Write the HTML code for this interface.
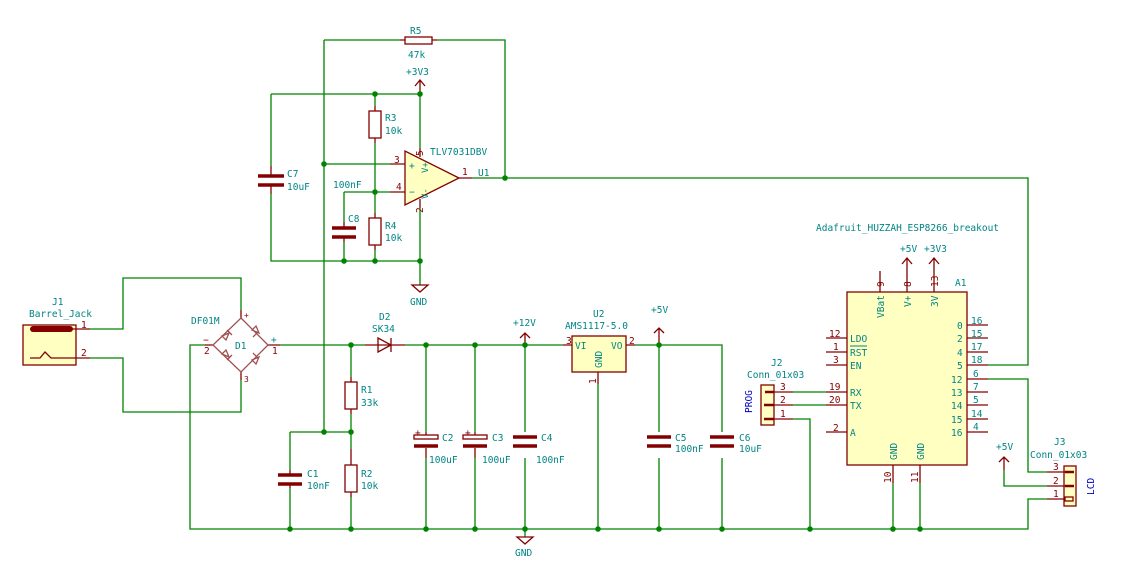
<!DOCTYPE html>
<html><head><meta charset="utf-8"><style>
html,body{margin:0;padding:0;background:#fff;}
svg{display:block;font-family:"DejaVu Sans Mono","Liberation Mono",monospace;}
.w{stroke:#008400;stroke-width:1.3;fill:none;}
.r{stroke:#840000;stroke-width:1.3;fill:none;}
.rf{stroke:#840000;stroke-width:1.3;fill:#ffffc2;}
.p{stroke:#840000;stroke-width:3.5;fill:none;}
.j{fill:#008400;}
text{font-size:9.5px;fill:#008484;}
.rt{fill:#840000;}
.bt{fill:#0000c2;}
</style></head><body>
<svg width="1134" height="585" viewBox="0 0 1134 585" xmlns="http://www.w3.org/2000/svg">
<path class="w" d="M324,40 H400 M437,40 H505 V178 M324,40 V432"/>
<path class="w" d="M271,94 H420 M271,94 V166 M271,194 V261 H420 M375,94 V106 M375,143 V213 M375,250 V261 M420,94 V148 M420,208 V285"/>
<path class="w" d="M324,164 H390 M344,192 H390 M344,192 V222 M344,242 V261"/>
<path class="w" d="M472,178 H1028 V365 H988"/>
<rect class="r" x="405" y="37" width="27" height="7"/>
<path class="r" d="M400,40 H405 M432,40 H437"/>
<text x="410" y="34">R5</text><text x="408" y="58">47k</text>
<path class="r" d="M420,94 V80 M415,86 L420,80 L425,86"/>
<text x="406" y="75">+3V3</text>
<rect class="r" x="369" y="111" width="12" height="27"/>
<path class="r" d="M375,106 V111 M375,138 V143"/>
<text x="385" y="121">R3</text><text x="385" y="134">10k</text>
<rect class="r" x="369" y="218" width="12" height="27"/>
<path class="r" d="M375,213 V218 M375,245 V250"/>
<text x="385" y="229">R4</text><text x="385" y="241">10k</text>
<path class="r" d="M271,166 V176 M271,186 V194"/>
<path class="p" d="M258,176 H284 M258,185 H284"/>
<text x="287" y="177">C7</text><text x="287" y="190">10uF</text>
<path class="r" d="M344,222 V228 M344,237 V242"/>
<path class="p" d="M332,228 H356 M332,237 H356"/>
<text x="348" y="222">C8</text><text x="333" y="188">100nF</text>
<polygon class="rf" points="405,151 405,205 459,178"/>
<path class="r" d="M390,164 H405 M390,192 H405 M459,178 H472 M420,148 V157 M420,199 V208"/>
<text x="394" y="163" class="rt">3</text><text x="396" y="190" class="rt">4</text><text x="462" y="175" class="rt">1</text>
<text x="409" y="169">+</text><text x="409" y="195">−</text>
<text x="0" y="0" transform="translate(423,156) rotate(-90)" class="rt">5</text>
<text x="0" y="0" transform="translate(423,213) rotate(-90)" class="rt">2</text>
<text x="0" y="0" transform="translate(428,173) rotate(-90)" style="font-size:9px">V+</text>
<text x="0" y="0" transform="translate(428,199) rotate(-90)" style="font-size:9px">V-</text>
<text x="430" y="155">TLV7031DBV</text><text x="478" y="176">U1</text>
<path class="r" d="M412,285 H428 L420,292 Z"/>
<text x="410" y="305">GND</text>
<circle class="j" cx="375" cy="94" r="2.8"/><circle class="j" cx="420" cy="94" r="2.8"/>
<circle class="j" cx="324" cy="164" r="2.8"/><circle class="j" cx="375" cy="192" r="2.8"/>
<circle class="j" cx="344" cy="261" r="2.8"/><circle class="j" cx="375" cy="261" r="2.8"/><circle class="j" cx="420" cy="261" r="2.8"/>
<circle class="j" cx="505" cy="178" r="2.8"/>

<rect class="rf" x="23" y="325" width="53" height="40"/>
<path class="p" d="M33,329 H70" style="stroke-width:6;stroke-linecap:round"/>
<path class="r" d="M70,329 H90 M30,358 H40 L45,352 L51,358 H90"/>
<text x="52" y="305">J1</text><text x="29" y="317">Barrel_Jack</text>
<text x="81" y="328" class="rt">1</text><text x="81" y="356" class="rt">2</text>
<path class="w" d="M90,329 H123 V278 H241 V310 M90,358 H123 V412 H241 V380"/>
<path class="r" d="M241,310 V318 M241,372 V380 M213,345 H205 M268,345 H280"/>
<polygon class="r" points="241,318 268,345 241,372 213,345" style="stroke:#a05050"/>
<g class="r" style="stroke:#a05050">
<path d="M222,336 l7,-3 l-3,7 z M227,330 l5,5"/><path d="M252,330 l7,3 l-3,-7 z M258,332 l-5,5"/>
<path d="M222,354 l7,3 l-3,-7 z M227,360 l5,-5"/><path d="M252,360 l7,-3 l-3,7 z M258,358 l-5,-5"/>
</g>
<text x="191" y="324">DF01M</text><text x="235" y="349">D1</text>
<text x="244" y="318" class="rt" style="font-size:8px">+</text><text x="244" y="382" class="rt" style="font-size:8px">3</text>
<text x="203" y="343" class="rt">−</text><text x="204" y="354" class="rt">2</text>
<text x="271" y="343">+</text><text x="272" y="354" class="rt">1</text>
<path class="w" d="M205,345 H190 V529 H1028 V499 H1047"/>
<path class="w" d="M280,345 H365 M405,345 H563"/>
<path class="r" d="M365,345 H405"/>
<polygon class="r" points="378,338 378,352 391,345"/><path class="r" d="M391,338 V352"/>
<text x="379" y="320">D2</text><text x="372" y="332">SK34</text>
<path class="w" d="M351,345 V377 M351,414 V449 M351,497 V529 M290,432 H351 M290,432 V470 M290,488 V529"/>
<rect class="r" x="345" y="382" width="12" height="27"/><path class="r" d="M351,377 V382 M351,409 V414"/>
<rect class="r" x="345" y="465" width="12" height="27"/><path class="r" d="M351,449 V465 M351,492 V497"/>
<text x="361" y="393">R1</text><text x="361" y="406">33k</text>
<text x="361" y="477">R2</text><text x="361" y="489">10k</text>
<path class="r" d="M290,470 V475 M290,484 V488"/><path class="p" d="M278,475 H302 M278,484 H302"/>
<text x="307" y="477">C1</text><text x="307" y="489">10nF</text>
<path class="w" d="M426,345 V432 M426,458 V529 M475,345 V432 M475,458 V529 M525,345 V432 M525,458 V529"/>
<rect class="r" x="414" y="435" width="24" height="4"/><path class="p" d="M414,446 H438"/><path class="r" d="M426,432 V435 M426,448 V458"/>
<text x="415" y="436" class="rt">+</text>
<rect class="r" x="463" y="435" width="24" height="4"/><path class="p" d="M463,446 H487"/><path class="r" d="M475,432 V435 M475,448 V458"/>
<text x="465" y="436" class="rt">+</text>
<path class="p" d="M513,437 H537 M513,446 H537"/>
<text x="442" y="441">C2</text><text x="429" y="463">100uF</text>
<text x="492" y="441">C3</text><text x="482" y="463">100uF</text>
<text x="541" y="441">C4</text><text x="536" y="463">100nF</text>
<path class="r" d="M525,345 V333 M520,338 L525,333 L530,338"/><text x="513" y="326">+12V</text>
<path class="w" d="M525,529 V537"/><path class="r" d="M517,537 H533 L525,544 Z"/><text x="515" y="556">GND</text>
<rect class="rf" x="572" y="336" width="54" height="36"/>
<path class="r" d="M563,345 H572 M626,345 H635 M598,372 V384"/>
<path class="w" d="M635,345 H722 V432 M722,458 V529 M598,384 V529 M659,345 V432 M659,458 V529"/>
<text x="566" y="344" class="rt">3</text><text x="629" y="344" class="rt">2</text>
<text x="575" y="349">VI</text><text x="611" y="349">VO</text>
<text x="0" y="0" transform="translate(602,368) rotate(-90)">GND</text>
<text x="0" y="0" transform="translate(596,384) rotate(-90)" class="rt">1</text>
<text x="593" y="317">U2</text><text x="565" y="329">AMS1117-5.0</text>
<path class="r" d="M659,345 V328 M654,333 L659,328 L664,333"/><text x="651" y="313">+5V</text>
<path class="p" d="M647,437 H671 M647,446 H671 M710,437 H734 M710,446 H734"/>
<text x="675" y="441">C5</text><text x="675" y="452">100nF</text>
<text x="739" y="441">C6</text><text x="739" y="452">10uF</text>
<rect class="rf" x="761" y="385" width="13" height="40"/>
<path class="r" d="M765,392 H774 M764,405 H774 M764,419 H774" style="stroke-width:2.5"/>
<path class="r" d="M774,392 H793 M774,405 H793 M774,419 H793"/>
<text x="780" y="390" class="rt">3</text><text x="780" y="403" class="rt">2</text><text x="780" y="417" class="rt">1</text>
<text x="771" y="366">J2</text><text x="747" y="378">Conn_01x03</text>
<text x="0" y="0" transform="translate(752,413) rotate(-90)" class="bt">PROG</text>
<path class="w" d="M793,392 H826 M793,405 H826 M793,419 H810 V529"/>
<rect class="rf" x="847" y="292" width="120" height="173"/>
<path class="r" d="M880,271 V292 M907,258 V292 M934,258 V292 M902,264 L907,258 L912,264 M929,264 L934,258 L939,264"/>
<text x="0" y="0" transform="translate(884,287) rotate(-90)" class="rt">9</text>
<text x="0" y="0" transform="translate(911,287) rotate(-90)" class="rt">8</text>
<text x="0" y="0" transform="translate(938,287) rotate(-90)" class="rt">13</text>
<text x="0" y="0" transform="translate(884,318) rotate(-90)">VBat</text>
<text x="0" y="0" transform="translate(911,307) rotate(-90)">V+</text>
<text x="0" y="0" transform="translate(938,307) rotate(-90)">3V</text>
<text x="900" y="252">+5V</text><text x="924" y="252">+3V3</text>
<text x="955" y="286">A1</text>
<text x="816" y="231">Adafruit_HUZZAH_ESP8266_breakout</text>
<path class="r" d="M826,352 H847 M826,365 H847 M826,338 H847 M826,392 H847 M826,405 H847 M826,432 H847"/>
<text x="829" y="337" class="rt">12</text><text x="833" y="350" class="rt">1</text><text x="833" y="363" class="rt">3</text>
<text x="829" y="390" class="rt">19</text><text x="829" y="403" class="rt">20</text><text x="833" y="431" class="rt">2</text>
<text x="850" y="342">LDO</text><text x="850" y="356">RST</text><path d="M850,346 H867" stroke="#008484" stroke-width="1"/>
<text x="850" y="369">EN</text><text x="850" y="396">RX</text><text x="850" y="409">TX</text><text x="850" y="436">A</text>
<path class="r" d="M967,325 H988 M967,338 H988 M967,352 H988 M967,365 H988 M967,379 H988 M967,392 H988 M967,405 H988 M967,419 H988 M967,432 H988"/>
<g class="rt"><text x="971" y="324">16</text><text x="971" y="337">15</text><text x="971" y="350">17</text><text x="971" y="363">18</text><text x="973" y="377">6</text><text x="973" y="390">7</text><text x="973" y="403">5</text><text x="971" y="417">14</text><text x="973" y="430">4</text></g>
<g><text x="957" y="329">0</text><text x="957" y="342">2</text><text x="957" y="356">4</text><text x="957" y="369">5</text><text x="951" y="383">12</text><text x="951" y="396">13</text><text x="951" y="409">14</text><text x="951" y="423">15</text><text x="951" y="436">16</text></g>
<text x="0" y="0" transform="translate(897,460) rotate(-90)">GND</text>
<text x="0" y="0" transform="translate(924,460) rotate(-90)">GND</text>
<path class="r" d="M893,465 V483 M920,465 V483"/>
<text x="0" y="0" transform="translate(891,483) rotate(-90)" class="rt">10</text>
<text x="0" y="0" transform="translate(918,483) rotate(-90)" class="rt">11</text>
<path class="w" d="M893,483 V529 M920,483 V529 M988,379 H1028 V472 H1047"/>
<rect class="rf" x="1064" y="466" width="12" height="40"/>
<path class="r" d="M1047,472 H1068 M1047,486 H1068 M1047,499 H1064" />
<path class="r" d="M1065,472 H1074 M1065,486 H1074" style="stroke-width:2.5"/>
<rect class="r" x="1065" y="497" width="8" height="4"/>
<text x="1053" y="470" class="rt">3</text><text x="1053" y="484" class="rt">2</text><text x="1053" y="497" class="rt">1</text>
<text x="1054" y="445">J3</text><text x="1030" y="458">Conn_01x03</text>
<text x="0" y="0" transform="translate(1094,495) rotate(-90)" class="bt">LCD</text>
<path class="w" d="M1047,486 H1004 V470"/>
<path class="r" d="M1004,470 V457 M999,462 L1004,457 L1009,462"/><text x="996" y="450">+5V</text>
<g class="j">
<circle cx="351" cy="345" r="2.8"/><circle cx="426" cy="345" r="2.8"/><circle cx="475" cy="345" r="2.8"/><circle cx="525" cy="345" r="2.8"/><circle cx="659" cy="345" r="2.8"/>
<circle cx="324" cy="432" r="2.8"/><circle cx="351" cy="432" r="2.8"/>
<circle cx="290" cy="529" r="2.8"/><circle cx="351" cy="529" r="2.8"/><circle cx="426" cy="529" r="2.8"/><circle cx="475" cy="529" r="2.8"/><circle cx="525" cy="529" r="2.8"/><circle cx="598" cy="529" r="2.8"/><circle cx="659" cy="529" r="2.8"/><circle cx="722" cy="529" r="2.8"/><circle cx="810" cy="529" r="2.8"/><circle cx="893" cy="529" r="2.8"/><circle cx="920" cy="529" r="2.8"/>
</g>
</svg>
</body></html>
